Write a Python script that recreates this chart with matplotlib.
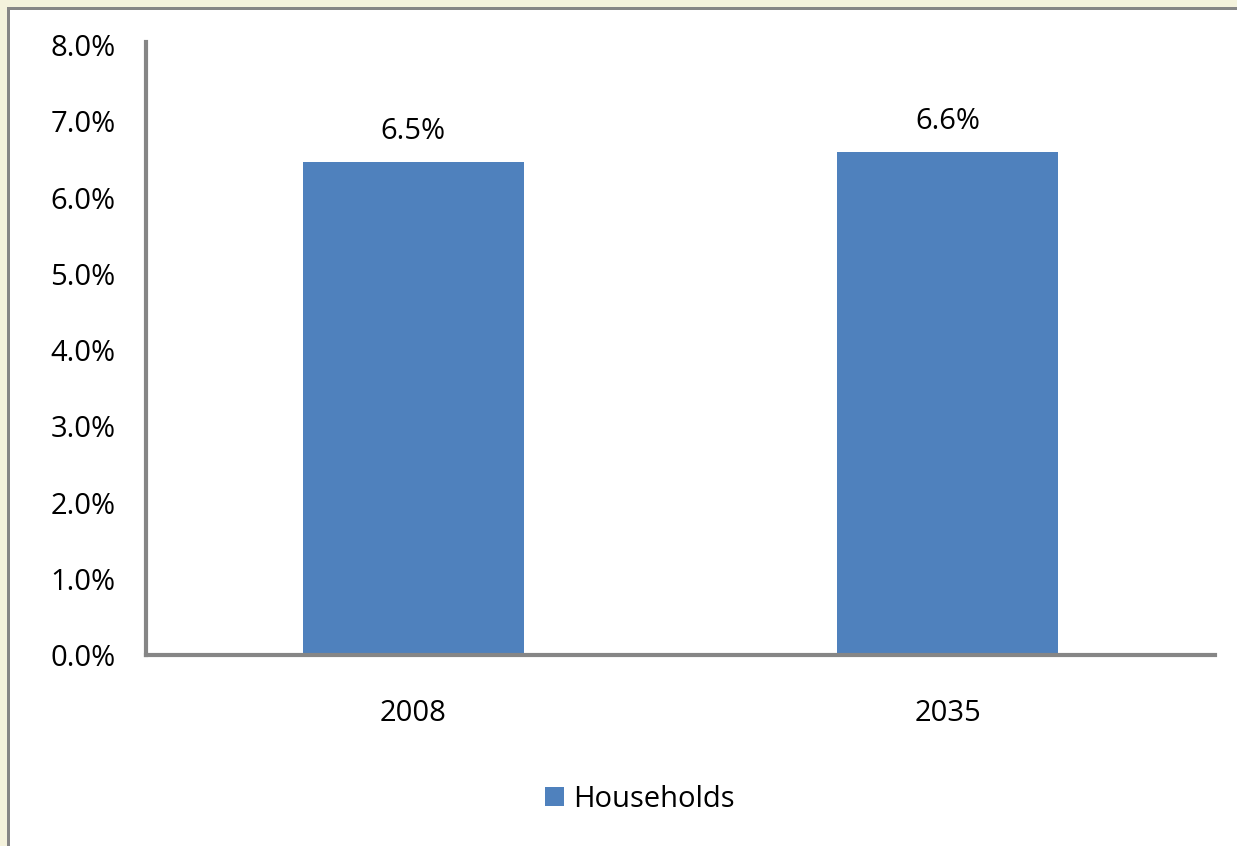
import matplotlib
matplotlib.use("Agg")
import matplotlib.pyplot as plt
from matplotlib.patches import Rectangle
from matplotlib.ticker import FuncFormatter

years = ["2008", "2035"]
households = [6.47, 6.6]
bar_labels = ["6.5%", "6.6%"]
yticks = [0, 1, 2, 3, 4, 5, 6, 7, 8]

W, H = 1237, 846
plt.rcParams['font.family'] = ['Open Sans', 'DejaVu Sans']

fig = plt.figure(figsize=(W/100, H/100), dpi=100)
fig.patch.set_facecolor('white')

# beige frame on the left/top and the gray border line
fig.patches.append(Rectangle((0, 0), 7/W, 1, transform=fig.transFigure, facecolor='#f4f2dc', edgecolor='none'))
fig.patches.append(Rectangle((0, 1-7/H), 1, 7/H, transform=fig.transFigure, facecolor='#f4f2dc', edgecolor='none'))
fig.patches.append(Rectangle((7/W, 0), 3/W, 1-7/H, transform=fig.transFigure, facecolor='#868686', edgecolor='none'))
fig.patches.append(Rectangle((7/W, 1-10/H), 1, 3/H, transform=fig.transFigure, facecolor='#868686', edgecolor='none'))

left, right = 146/W, 1215/W
bottom, top = 1-655/H, 1-45/H
ax = fig.add_axes([left, bottom, right-left, top-bottom])

x = range(len(years))
bars = ax.bar(x, households, width=0.413, color='#4f81bd', label='Households', zorder=2)
for xi, v, lab in zip(x, households, bar_labels):
  ax.annotate(lab, (xi, v), xytext=(0, 22), textcoords='offset points',
              ha='center', va='center', fontsize=21, color='black')

ax.set_xlim(-0.5, 1.5)
ax.set_ylim(0, 8)
ax.set_yticks(yticks)
ax.yaxis.set_major_formatter(FuncFormatter(lambda v, p: '%.1f%%' % v))
ax.set_xticks(list(x))
ax.set_xticklabels(years)
ax.tick_params(axis='both', length=0, labelsize=21, colors='black')
ax.tick_params(axis='y', pad=22)
ax.tick_params(axis='x', pad=32)

for s in ['top', 'right']:
  ax.spines[s].set_visible(False)
for s in ['left', 'bottom']:
  ax.spines[s].set_color('#868686')
  ax.spines[s].set_linewidth(3)
ax.spines['left'].set_bounds(0, 8.04)

leg = fig.legend(handles=[bars], loc='center', bbox_to_anchor=(640/W, 1-799/H),
                 frameon=False, fontsize=21, handlelength=0.65, handleheight=0.65,
                 handletextpad=0.3)

fig.savefig('out.png', dpi=100)
